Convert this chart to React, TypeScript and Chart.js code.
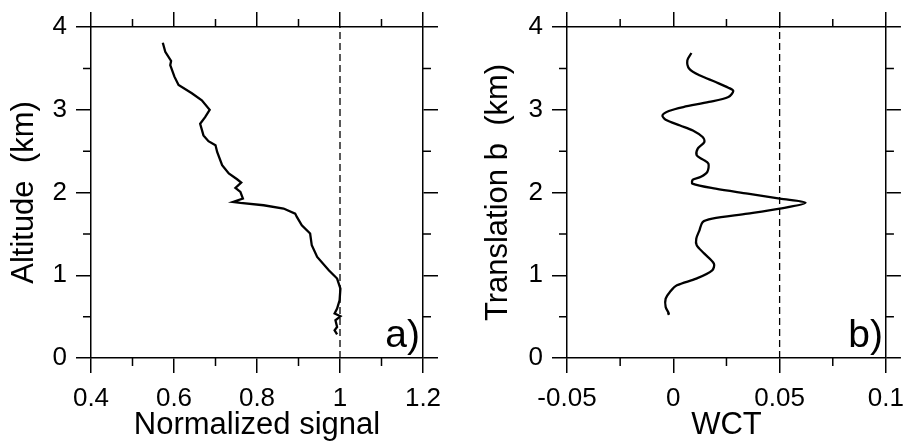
import React, { useEffect, useRef } from "react";
import { Chart, registerables } from "chart.js";

Chart.register(...registerables);
Chart.defaults.font.family = "'Liberation Sans', Arial, sans-serif";
Chart.defaults.color = "#000";

// ---- Panel a) : normalized signal vs altitude ----
const signalAltitude = [
  3.81, 3.7, 3.59, 3.54, 3.4, 3.3, 3.2, 3.115, 3.0, 2.91, 2.83, 2.69, 2.62, 2.57, 2.49,
  2.33, 2.23, 2.16, 2.12, 2.055, 2.007, 1.927, 1.886, 1.874, 1.846, 1.806, 1.745, 1.705,
  1.604, 1.504, 1.362, 1.221, 1.06, 0.96, 0.839, 0.697, 0.597, 0.537, 0.504, 0.456,
  0.375, 0.335, 0.286,
];
const signalValue = [
  0.573, 0.579, 0.593, 0.591, 0.601, 0.611, 0.643, 0.667, 0.686, 0.675, 0.663, 0.671,
  0.683, 0.7, 0.704, 0.716, 0.732, 0.752, 0.762, 0.748, 0.76, 0.766, 0.742, 0.76, 0.816,
  0.864, 0.892, 0.896, 0.908, 0.928, 0.932, 0.945, 0.973, 0.993, 1.001, 0.999, 0.993,
  0.987, 1.001, 0.989, 0.993, 0.987, 0.993,
];
const signalRef = 1;
const signalXTicks = [0.4, 1.2, 0.2]; // min, max, step
const signalMinorX = [0.5, 0.7, 0.9, 1.1];

// ---- Panel b) : WCT vs translation ----
const wctAltitude = [
  3.686, 3.597, 3.496, 3.416, 3.335, 3.267, 3.227, 3.154, 3.094, 3.033, 2.985, 2.933, 2.88,
  2.81, 2.75, 2.67, 2.61, 2.53, 2.45, 2.4, 2.35, 2.25, 2.19, 2.155, 2.107, 2.046, 1.986,
  1.925, 1.877, 1.805, 1.744, 1.684, 1.643, 1.543, 1.442, 1.362, 1.261, 1.14, 1.06, 0.959,
  0.878, 0.798, 0.717, 0.616, 0.536, 0.528,
];
const wctValue = [
  0.0085, 0.0066, 0.0075, 0.0123, 0.0199, 0.0259, 0.0282, 0.0259, 0.0168, 0.0047, -0.0021,
  -0.0051, -0.0036, 0.0032, 0.0092, 0.0138, 0.0146, 0.0115, 0.011, 0.0138, 0.0165, 0.016,
  0.013, 0.0092, 0.009, 0.0199, 0.035, 0.0501, 0.0622, 0.0501, 0.035, 0.0183, 0.0138,
  0.0123, 0.0108, 0.011, 0.0146, 0.0191, 0.0183, 0.0108, 0.0017, -0.0016, -0.0036,
  -0.0036, -0.0021, -0.0028,
];
const wctRef = 0.05;
const wctXTicks = [-0.05, 0.1, 0.05];
const wctMinorX = [-0.025, 0.025, 0.075];

// ---- shared ----
const altitudeTicks = [0, 4, 1];
const altitudeMinor = [0.5, 1.5, 2.5, 3.5];

const fmt = (v: any) => String(Math.round(Number(v) * 1000) / 1000);

type Panel = {
  xs: number[];
  ys: number[];
  ref: number;
  xTicks: number[];
  minorX: number[];
  xTitle: string;
  yTitle: string;
  label: string;
  leftW: number;
  rightW: number;
  yTitlePad: number;
  tension: number;
};

function framePlugin(minorX: number[], minorY: number[], label: string) {
  return {
    id: "frameMinor",
    afterDraw(chart: any) {
      const { ctx, chartArea, scales } = chart;
      const { left, right, top, bottom } = chartArea;
      ctx.save();
      ctx.strokeStyle = "#000";
      ctx.lineWidth = 1.5;
      ctx.beginPath();
      for (const v of minorX) {
        const px = scales.x.getPixelForValue(v);
        ctx.moveTo(px, bottom);
        ctx.lineTo(px, bottom + 8);
        ctx.moveTo(px, top);
        ctx.lineTo(px, top - 8);
      }
      for (const v of minorY) {
        const py = scales.y.getPixelForValue(v);
        ctx.moveTo(left, py);
        ctx.lineTo(left - 8, py);
        ctx.moveTo(right, py);
        ctx.lineTo(right + 8, py);
      }
      ctx.stroke();
      ctx.fillStyle = "#000";
      ctx.font = "39px 'Liberation Sans', Arial, sans-serif";
      ctx.textAlign = "right";
      ctx.textBaseline = "alphabetic";
      ctx.fillText(label, right - 3, bottom - 11);
      ctx.restore();
    },
  };
}

function makeConfig(p: Panel): any {
  const [xmin, xmax, xstep] = p.xTicks;
  const [ymin, ymax, ystep] = altitudeTicks;
  const grid = {
    drawOnChartArea: false,
    drawTicks: true,
    tickLength: 15,
    color: "#000",
    lineWidth: 1.5,
  };
  const border = { display: true, color: "#000", width: 1.5 };
  return {
    type: "scatter",
    data: {
      datasets: [
        {
          data: [
            { x: p.ref, y: ymin },
            { x: p.ref, y: ymax },
          ],
          showLine: true,
          borderColor: "#000",
          borderWidth: 1.3,
          borderDash: [7, 4],
          pointRadius: 0,
        },
        {
          data: p.ys.map((y, i) => ({ x: p.xs[i], y })),
          showLine: true,
          borderColor: "#000",
          borderWidth: 2.3,
          pointRadius: 0,
          tension: p.tension,
        },
      ],
    },
    options: {
      responsive: false,
      animation: false,
      events: [],
      layout: { padding: 0 },
      plugins: { legend: { display: false }, tooltip: { enabled: false } },
      scales: {
        x: {
          type: "linear",
          axis: "x",
          position: "bottom",
          min: xmin,
          max: xmax,
          ticks: {
            stepSize: xstep,
            font: { size: 26 },
            color: "#000",
            padding: 10,
            maxRotation: 0,
            autoSkip: false,
            callback: fmt,
          },
          grid,
          border,
          title: {
            display: true,
            text: p.xTitle,
            font: { size: 31 },
            color: "#000",
            padding: { top: 0, bottom: 0 },
          },
          afterFit: (s: any) => {
            s.height = 86;
          },
        },
        x2: {
          type: "linear",
          axis: "x",
          position: "top",
          min: xmin,
          max: xmax,
          ticks: { stepSize: xstep, display: false },
          grid,
          border,
          afterFit: (s: any) => {
            s.height = 27;
          },
        },
        y: {
          type: "linear",
          axis: "y",
          position: "left",
          min: ymin,
          max: ymax,
          ticks: {
            stepSize: ystep,
            font: { size: 26 },
            color: "#000",
            padding: 9,
            callback: fmt,
          },
          grid,
          border,
          title: {
            display: true,
            text: p.yTitle,
            font: { size: 31 },
            color: "#000",
            padding: { top: p.yTitlePad, bottom: 0 },
          },
          afterFit: (s: any) => {
            s.width = p.leftW;
          },
        },
        y2: {
          type: "linear",
          axis: "y",
          position: "right",
          min: ymin,
          max: ymax,
          ticks: { stepSize: ystep, display: false },
          grid,
          border,
          afterFit: (s: any) => {
            s.width = p.rightW;
          },
        },
      },
    },
    plugins: [framePlugin(p.minorX, altitudeMinor, p.label)],
  };
}

const panelA: Panel = {
  xs: signalValue,
  ys: signalAltitude,
  ref: signalRef,
  xTicks: signalXTicks,
  minorX: signalMinorX,
  xTitle: "Normalized signal",
  yTitle: "Altitude  (km)",
  label: "a)",
  leftW: 91,
  rightW: 34,
  yTitlePad: 6,
  tension: 0,
};

const panelB: Panel = {
  xs: wctValue,
  ys: wctAltitude,
  ref: wctRef,
  xTicks: wctXTicks,
  minorX: wctMinorX,
  xTitle: "WCT",
  yTitle: "Translation b  (km)",
  label: "b)",
  leftW: 110,
  rightW: 17,
  yTitlePad: 23,
  tension: 0.3,
};

function PanelChart({ panel, left }: { panel: Panel; left: number }) {
  const ref = useRef<HTMLCanvasElement | null>(null);
  useEffect(() => {
    if (!ref.current) return;
    const chart = new Chart(ref.current, makeConfig(panel));
    return () => chart.destroy();
  }, [panel]);
  return (
    <canvas
      ref={ref}
      width={457}
      height={444}
      style={{ position: "absolute", left, top: 0, width: 457, height: 444, display: "block" }}
    />
  );
}

export default function App() {
  return (
    <div
      style={{
        position: "fixed",
        left: 0,
        top: 0,
        width: 914,
        height: 444,
        background: "#fff",
        overflow: "hidden",
      }}
    >
      <PanelChart panel={panelA} left={0} />
      <PanelChart panel={panelB} left={457} />
    </div>
  );
}
